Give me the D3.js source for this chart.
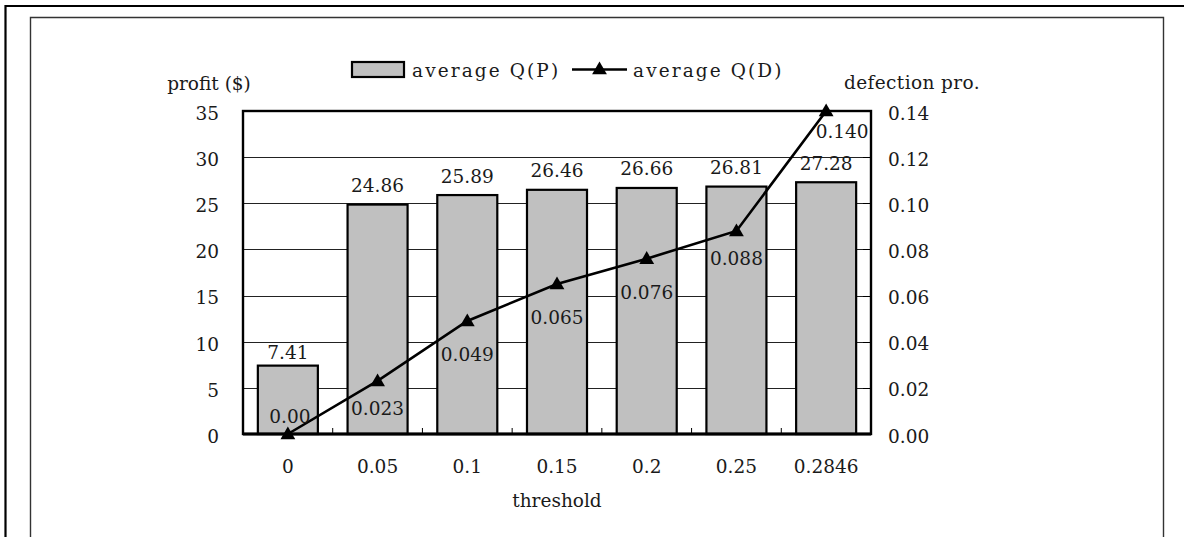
<!DOCTYPE html>
<html>
<head>
<meta charset="utf-8">
<script src="https://cdn.jsdelivr.net/npm/d3@7"></script>
<style>
  html, body { margin: 0; padding: 0; background: #fff; }
  svg text { font-family: "DejaVu Serif", "Liberation Serif", serif; fill: #1a1a1a; }
</style>
</head>
<body>
<svg id="chart" width="1184" height="537"></svg>
<script>
// ---- data ----
const categories = ["0", "0.05", "0.1", "0.15", "0.2", "0.25", "0.2846"];
const profitValues = [7.41, 24.86, 25.89, 26.46, 26.66, 26.81, 27.28];
const defectionValues = [0.000, 0.023, 0.049, 0.065, 0.076, 0.088, 0.140];
const profitLabels = ["7.41", "24.86", "25.89", "26.46", "26.66", "26.81", "27.28"];
const defectionLabels = ["0.00", "0.023", "0.049", "0.065", "0.076", "0.088", "0.140"];
const leftTicks = [0, 5, 10, 15, 20, 25, 30, 35];
const rightTicks = [0, 0.02, 0.04, 0.06, 0.08, 0.10, 0.12, 0.14];
const seriesNames = ["average Q(P)", "average Q(D)"];

// ---- layout (kept separate from data) ----
const plot = { left: 243, right: 871, top: 111, bottom: 434 };
const barLabelNudgeY = [6, 0, 0, 0, 0, 0, 0];
const lineLabelNudgeY = [-51, -6, 0, 0, 0, -6, -13];
const lineLabelNudgeX = [2, 0, 0, 0, 0, 0, 16];
const FS = 18.5;

const svg = d3.select("#chart");

// frames
svg.append("path").attr("d", "M5.5,537 V6 H1184")
  .attr("fill", "none").attr("stroke", "#000").attr("stroke-width", 2.2);
svg.append("path").attr("d", "M30.5,537 V17.5 H1163.5 V537")
  .attr("fill", "none").attr("stroke", "#333").attr("stroke-width", 1.4);

const n = categories.length;
const x = d3.scaleBand().domain(categories)
  .range([plot.left, plot.right]).paddingInner(0.331).paddingOuter(0.1655);
const step = x.step();
const bw = x.bandwidth();
const yL = d3.scaleLinear().domain([0, 35]).range([plot.bottom, plot.top]);
const yR = d3.scaleLinear().domain([0, 0.14]).range([plot.bottom, plot.top]);

// gridlines
svg.append("g").selectAll("line").data(leftTicks.filter(t => t > 0 && t < 35)).join("line")
  .attr("x1", plot.left).attr("x2", plot.right)
  .attr("y1", d => Math.round(yL(d)) + 0.5).attr("y2", d => Math.round(yL(d)) + 0.5)
  .attr("stroke", "#222").attr("stroke-width", 1);

// bars
svg.append("g").selectAll("rect").data(profitValues).join("rect")
  .attr("x", (d, i) => x(categories[i]))
  .attr("y", d => yL(d))
  .attr("width", bw)
  .attr("height", d => yL(0) - yL(d))
  .attr("fill", "#c0c0c0").attr("stroke", "#000").attr("stroke-width", 2.2);

// plot border
svg.append("rect").attr("x", plot.left).attr("y", plot.top)
  .attr("width", plot.right - plot.left).attr("height", plot.bottom - plot.top)
  .attr("fill", "none").attr("stroke", "#000").attr("stroke-width", 2.4);
// x axis line
svg.append("line").attr("x1", plot.left).attr("x2", plot.right)
  .attr("y1", plot.bottom).attr("y2", plot.bottom)
  .attr("stroke", "#000").attr("stroke-width", 2.8);

// x ticks (inside, between categories)
svg.append("g").selectAll("line").data(d3.range(1, n)).join("line")
  .attr("x1", i => plot.left + i * step).attr("x2", i => plot.left + i * step)
  .attr("y1", plot.bottom).attr("y2", plot.bottom - 6)
  .attr("stroke", "#000").attr("stroke-width", 1);
// right ticks (inside)
svg.append("g").selectAll("line").data(rightTicks.filter(t => t > 0 && t < 0.14)).join("line")
  .attr("x1", plot.right).attr("x2", plot.right - 8)
  .attr("y1", d => Math.round(yR(d)) + 0.5).attr("y2", d => Math.round(yR(d)) + 0.5)
  .attr("stroke", "#000").attr("stroke-width", 1);

// left tick labels
svg.append("g").selectAll("text").data(leftTicks).join("text")
  .attr("x", 219).attr("y", d => yL(d) + 8.8)
  .attr("text-anchor", "end").attr("font-size", FS)
  .text(d => d3.format("d")(d));
// right tick labels
svg.append("g").selectAll("text").data(rightTicks).join("text")
  .attr("x", 888).attr("y", d => yR(d) + 8.6)
  .attr("text-anchor", "start").attr("font-size", FS)
  .text(d => d3.format(".2f")(d));
// x tick labels
svg.append("g").selectAll("text").data(categories).join("text")
  .attr("x", d => x(d) + bw / 2).attr("y", 473)
  .attr("text-anchor", "middle").attr("font-size", FS)
  .text(d => d);

// axis titles
svg.append("text").attr("x", 209).attr("y", 90).attr("text-anchor", "middle")
  .attr("font-size", FS).text("profit ($)");
svg.append("text").attr("x", 912).attr("y", 89).attr("text-anchor", "middle")
  .attr("font-size", FS).attr("letter-spacing", 0.4).text("defection pro.");
svg.append("text").attr("x", 557).attr("y", 507).attr("text-anchor", "middle")
  .attr("font-size", FS).text("threshold");

// line
const cx = i => x(categories[i]) + bw / 2;
const line = d3.line().x((d, i) => cx(i)).y(d => yR(d));
svg.append("path").datum(defectionValues).attr("d", line)
  .attr("fill", "none").attr("stroke", "#000").attr("stroke-width", 2.6);
const tri = d3.symbol().type(d3.symbolTriangle).size(95);
svg.append("g").selectAll("path").data(defectionValues).join("path")
  .attr("d", tri)
  .attr("transform", (d, i) => `translate(${cx(i)},${yR(d) + 1})`)
  .attr("fill", "#000");

// bar labels
svg.append("g").selectAll("text").data(profitValues).join("text")
  .attr("x", (d, i) => cx(i))
  .attr("y", (d, i) => yL(d) - 12.5 + barLabelNudgeY[i])
  .attr("text-anchor", "middle").attr("font-size", FS)
  .text((d, i) => profitLabels[i]);

// line labels
svg.append("g").selectAll("text").data(defectionValues).join("text")
  .attr("x", (d, i) => cx(i) + lineLabelNudgeX[i])
  .attr("y", (d, i) => yR(d) + 40 + lineLabelNudgeY[i])
  .attr("text-anchor", "middle").attr("font-size", FS)
  .text((d, i) => defectionLabels[i]);

// legend
const lg = svg.append("g");
lg.append("rect").attr("x", 352).attr("y", 62).attr("width", 52).attr("height", 15)
  .attr("fill", "#c0c0c0").attr("stroke", "#000").attr("stroke-width", 2.2);
lg.append("text").attr("x", 412).attr("y", 77).attr("font-size", FS)
  .attr("letter-spacing", 2.1).text(seriesNames[0]);
lg.append("line").attr("x1", 572).attr("x2", 627).attr("y1", 69.5).attr("y2", 69.5)
  .attr("stroke", "#000").attr("stroke-width", 2.6);
lg.append("path").attr("d", tri).attr("transform", "translate(599.5,70)").attr("fill", "#000");
lg.append("text").attr("x", 633).attr("y", 77).attr("font-size", FS)
  .attr("letter-spacing", 2.1).text(seriesNames[1]);
</script>
</body>
</html>
